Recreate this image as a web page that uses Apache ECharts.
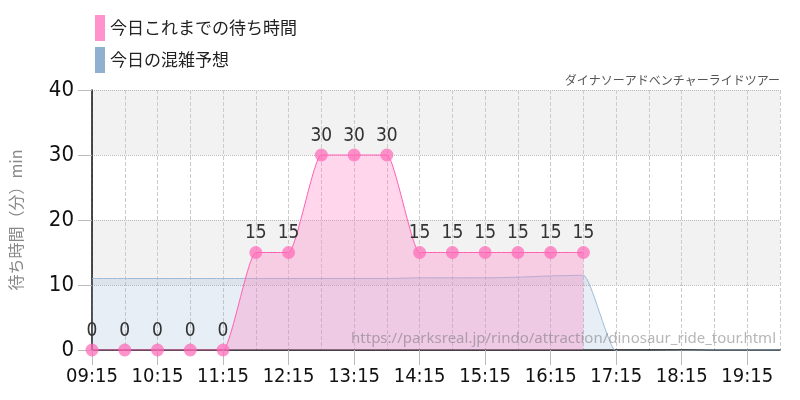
<!DOCTYPE html>
<html><head><meta charset="utf-8">
<script src="https://cdn.jsdelivr.net/npm/echarts@6/dist/echarts.min.js"></script>
<style>html,body{margin:0;padding:0;background:#fff}#c{width:800px;height:400px}</style>
</head><body><div id="c"></div>
<script>
const categories = ['09:15','09:45','10:15','10:45','11:15','11:45','12:15','12:45','13:15','13:45','14:15','14:45','15:15','15:45','16:15','16:45','17:15','17:45','18:15','18:45','19:15','19:45'];
const actualWait = [0,0,0,0,0,15,15,30,30,30,15,15,15,15,15,15,null,null,null,null,null,null];
const forecast = [11,11,11,11,11,11,11,11,11,11,11.1,11.1,11.1,11.2,11.4,11.5,-0.2,-0.2,-0.1,0,0,0];
const titleText = 'ダイナソーアドベンチャーライドツアー';
const urlText = 'https://parksreal.jp/rindo/attraction/dinosaur_ride_tour.html';
const narrow = "'Liberation Sans Narrow','DejaVu Sans Condensed','Roboto',sans-serif";
const chart = echarts.init(document.getElementById('c'));
chart.setOption({
  animation:false,
  title:{text:titleText,right:15,top:69,textStyle:{fontSize:12,fontWeight:'normal',color:'#555',fontFamily:'Noto Sans CJK JP'}},
  legend:{orient:'vertical',left:90,top:10,itemWidth:10,itemHeight:26,itemGap:6,icon:'rect',
    textStyle:{fontSize:17,color:'#222',fontFamily:'Noto Sans CJK JP'},
    data:['今日これまでの待ち時間','今日の混雑予想']},
  grid:{left:90,right:20,top:90,bottom:50},
  xAxis:{type:'category',data:categories,boundaryGap:false,
    axisLine:{lineStyle:{color:'#111',width:1.5}},
    axisTick:{interval:1,length:15,lineStyle:{color:'#bbb'}},
    axisLabel:{interval:1,fontSize:20,color:'#111',fontFamily:narrow,margin:17},
    splitLine:{show:true,interval:0,lineStyle:{type:'dashed',color:'#ccc'}}},
  yAxis:{type:'value',min:0,max:40,interval:10,
    name:'待ち時間（分）min',nameLocation:'middle',nameGap:68,nameRotate:90,
    nameTextStyle:{fontSize:16,color:'#888',fontFamily:'Noto Sans CJK JP'},
    axisLine:{show:true,lineStyle:{color:'#111',width:1.5}},
    axisTick:{show:true,length:14,lineStyle:{color:'#bbb'}},
    axisLabel:{fontSize:22,color:'#111',fontFamily:narrow,margin:18},
    splitLine:{lineStyle:{type:'dotted',color:'#bbb'}},
    splitArea:{show:true,areaStyle:{color:['#ffffff','#f2f2f2']}}},
  graphic:[{type:'text',right:24,top:331,z:100,style:{text:urlText,fontSize:15,fill:'rgba(110,110,110,0.5)',fontFamily:'Noto Sans'}}],
  series:[
    {name:'今日の混雑予想',type:'line',data:forecast,smooth:0.15,symbol:'none',z:1,
      itemStyle:{color:'#8fb1cf'},lineStyle:{color:'#9dbbd6',width:1},
      areaStyle:{color:'rgba(143,177,207,0.3)'}},
    {name:'今日これまでの待ち時間',type:'line',data:actualWait,smooth:0.15,symbol:'circle',symbolSize:13,z:3,
      itemStyle:{color:'rgba(255,105,185,0.72)'},lineStyle:{color:'#ff5fb0',width:1},
      areaStyle:{color:'rgba(255,125,195,0.45)'},
      label:{show:true,position:'top',distance:3,fontSize:19,color:'#333',fontFamily:narrow}}
  ]
});
</script></body></html>
